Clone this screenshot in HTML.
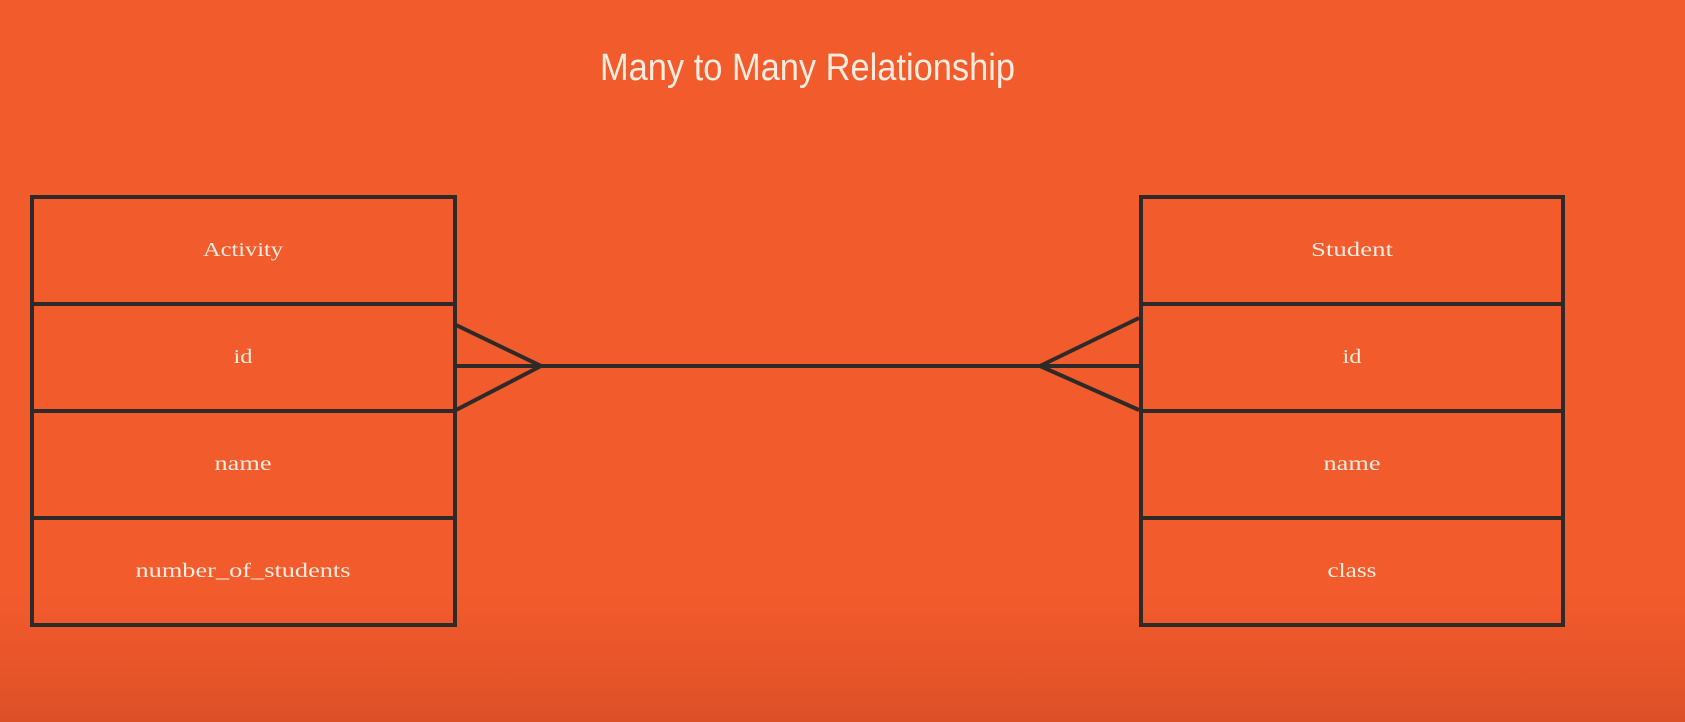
<!DOCTYPE html>
<html><head><meta charset="utf-8"><style>
html,body{margin:0;padding:0;}
body{width:1685px;height:722px;overflow:hidden;background:linear-gradient(to bottom,#f25b2c 0%,#f25b2c 82%,#e8552a 92%,#dc5027 100%);}
svg{display:block}
.t{font-family:"Liberation Serif",serif;font-size:20px;fill:#f8ece0;text-anchor:middle}
</style></head><body>
<svg width="1685" height="722" viewBox="0 0 1685 722">
<text x="600" y="80" textLength="415" lengthAdjust="spacingAndGlyphs" style="font-family:'Liberation Sans',sans-serif;font-size:38px;fill:#fbece0">Many to Many Relationship</text>
<g fill="none" stroke="#2e2a27" stroke-width="4">
<rect x="32" y="197" width="423" height="428"/>
<line x1="32" y1="304" x2="455" y2="304"/>
<line x1="32" y1="411" x2="455" y2="411"/>
<line x1="32" y1="518" x2="455" y2="518"/>
<rect x="1141" y="197" width="422" height="428"/>
<line x1="1141" y1="304" x2="1563" y2="304"/>
<line x1="1141" y1="411" x2="1563" y2="411"/>
<line x1="1141" y1="518" x2="1563" y2="518"/>
<line x1="455" y1="366" x2="1141" y2="366"/>
<polyline points="456,325 541,366 456,410"/>
<polyline points="1139,318 1040,366 1139,410"/>
</g>
<text class="t" x="243" y="256" textLength="80" lengthAdjust="spacingAndGlyphs">Activity</text>
<text class="t" x="243" y="363" textLength="19" lengthAdjust="spacingAndGlyphs">id</text>
<text class="t" x="243" y="470" textLength="57" lengthAdjust="spacingAndGlyphs">name</text>
<text class="t" x="243" y="577" textLength="215" lengthAdjust="spacingAndGlyphs">number_of_students</text>
<text class="t" x="1352" y="256" textLength="82" lengthAdjust="spacingAndGlyphs">Student</text>
<text class="t" x="1352" y="363" textLength="19" lengthAdjust="spacingAndGlyphs">id</text>
<text class="t" x="1352" y="470" textLength="57" lengthAdjust="spacingAndGlyphs">name</text>
<text class="t" x="1352" y="577" textLength="49" lengthAdjust="spacingAndGlyphs">class</text>
</svg>
</body></html>
